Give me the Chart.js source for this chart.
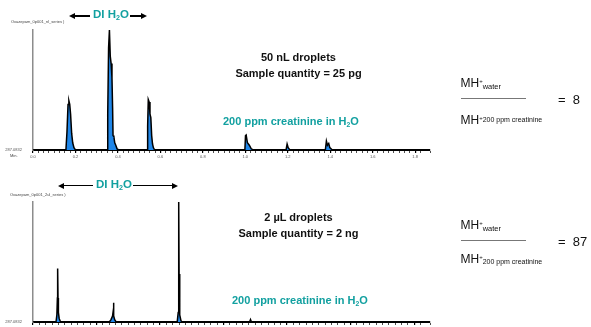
<!DOCTYPE html>
<html>
<head>
<meta charset="utf-8">
<script src="https://cdn.jsdelivr.net/npm/chart.js"></script>
<style>
    html, body { margin: 0; padding: 0; background: #fff; }
    body { width: 591px; height: 327px; overflow: hidden; position: relative; font-family: "Liberation Sans", Arial, sans-serif; }
    .box { position: absolute; left: 0; width: 440px; height: 165px; }
    .t { position: absolute; white-space: nowrap; line-height: 1; }
    .tiny { font-size: 4px; color: #444; }
    .bold { font-weight: bold; font-size: 11px; color: #111; }
    .center { width: 200px; text-align: center; }
    .teal { color: #12a0a0; font-weight: bold; }
    .di { font-size: 11.5px; }
    .t sub { font-size: 0.62em; line-height: 0; vertical-align: -0.25em; }
    .line { position: absolute; height: 1.5px; background: #000; }
    .hl, .hr { position: absolute; width: 0; height: 0; border-top: 3px solid transparent; border-bottom: 3px solid transparent; }
    .hl { border-right: 6px solid #000; }
    .hr { border-left: 6px solid #000; }
    .mh { font-size: 12px; line-height: 12px; color: #111; }
    .mh .p { font-size: 6px; vertical-align: 4px; line-height: 0; }
    .mh .s { font-size: 7.5px; line-height: 0; }
    .rule { position: absolute; height: 1px; background: #777; }
    .eq { font-size: 13px; color: #111; }
</style>
</head>
<body>
<div class="box" style="top:0"><canvas id="topChart"></canvas></div>
<div class="box" style="top:172px"><canvas id="bottomChart"></canvas></div>

<!-- top panel labels -->
<div class="t tiny" style="left:11px;top:20px">Oxazepam_0p001_nl_series )</div>
<div class="t tiny" style="left:10px;top:153.5px">Min.</div>
<div class="hl" style="left:69px;top:13.3px"></div>
<div class="line" style="left:74px;top:15px;width:16px"></div>
<div class="t teal di" style="left:93px;top:9.4px">DI H<sub>2</sub>O</div>
<div class="line" style="left:130px;top:15px;width:12px"></div>
<div class="hr" style="left:141px;top:13.3px"></div>
<div class="t bold center" style="left:198.5px;top:52px">50 nL droplets</div>
<div class="t bold center" style="left:198.5px;top:67.5px">Sample quantity = 25 pg</div>
<div class="t teal bold" style="left:223px;top:115.6px">200 ppm creatinine in H<sub>2</sub>O</div>

<div class="t mh" style="left:460.5px;top:77px">MH<span class="p">+</span><span class="s" style="vertical-align:-1.5px">water</span></div>
<div class="rule" style="left:460.7px;top:97.5px;width:65px"></div>
<div class="t eq" style="left:558px;top:93px">=&nbsp; 8</div>
<div class="t mh" style="left:460.5px;top:113.8px">MH<span class="p">+</span><span class="s" style="vertical-align:2.5px;font-size:7px">200 ppm creatinine</span></div>

<!-- bottom panel labels -->
<div class="t tiny" style="left:10px;top:192.5px">Oxazepam_0p001_2ul_series )</div>
<div class="hl" style="left:58px;top:182.8px"></div>
<div class="line" style="left:63px;top:184.5px;width:30px"></div>
<div class="t teal di" style="left:96px;top:179.4px">DI H<sub>2</sub>O</div>
<div class="line" style="left:133px;top:184.5px;width:40px"></div>
<div class="hr" style="left:172px;top:182.8px"></div>
<div class="t bold center" style="left:198.5px;top:211.5px">2 µL droplets</div>
<div class="t bold center" style="left:198.5px;top:227.5px">Sample quantity = 2 ng</div>
<div class="t teal bold" style="left:232px;top:294.6px">200 ppm creatinine in H<sub>2</sub>O</div>

<div class="t mh" style="left:460.5px;top:218.8px">MH<span class="p">+</span><span class="s" style="vertical-align:-2.3px">water</span></div>
<div class="rule" style="left:460.7px;top:239.5px;width:65px"></div>
<div class="t eq" style="left:558px;top:235.3px">=&nbsp; 87</div>
<div class="t mh" style="left:460.5px;top:252.5px">MH<span class="p">+</span><span class="s" style="vertical-align:-0.7px;font-size:7px">200 ppm creatinine</span></div>

<script>
// 50 nL droplet series (time in min, relative intensity)
var topTime = [0, 0.155, 0.160, 0.165, 0.169, 0.173, 0.177, 0.182, 0.187, 0.193, 0.200,
    0.349, 0.352, 0.356, 0.360, 0.364, 0.368, 0.372, 0.375, 0.377, 0.381, 0.385, 0.390, 0.396, 0.400,
    0.537, 0.540, 0.543, 0.547, 0.551, 0.555, 0.559, 0.563, 0.567, 0.573,
    0.998, 1.001, 1.004, 1.010, 1.019, 1.028, 1.038,
    1.192, 1.197, 1.202, 1.210,
    1.377, 1.382, 1.387, 1.393, 1.398, 1.410, 1.87];
var topSignal = [0, 0, 0.15, 0.38, 0.41, 0.38, 0.30, 0.14, 0.06, 0.02, 0,
    0, 0.30, 0.85, 1.0, 0.78, 0.72, 0.60, 0.35, 0.12, 0.11, 0.06, 0.04, 0.01, 0,
    0, 0.20, 0.42, 0.40, 0.30, 0.27, 0.12, 0.05, 0.02, 0,
    0, 0.12, 0.125, 0.06, 0.04, 0.01, 0,
    0, 0.05, 0.02, 0,
    0, 0.075, 0.04, 0.055, 0.02, 0, 0];
var topTickLabels = ['0.0', '0.2', '0.4', '0.6', '0.8', '1.0', '1.2', '1.4', '1.6', '1.8'];

// 2 uL droplet series
var bottomTime = [0, 0.181, 0.188, 0.192, 0.194, 0.197, 0.200, 0.206, 0.217,
    0.601, 0.614, 0.626, 0.630, 0.633, 0.637, 0.643, 0.652, 0.658,
    1.135, 1.143, 1.146, 1.148, 1.150, 1.155, 1.165, 1.174,
    1.705, 1.712, 1.720, 3.125];
var bottomSignal = [0, 0, 0.06, 0.20, 0.446, 0.20, 0.08, 0.03, 0,
    0, 0.02, 0.05, 0.08, 0.16, 0.05, 0.02, 0.005, 0,
    0, 0.08, 0.40, 1.0, 0.40, 0.06, 0.01, 0,
    0, 0.02, 0, 0];

var baseLabel = '287.0832';

function toPoints(xs, ys) {
    var pts = [];
    for (var i = 0; i < xs.length; i++) pts.push({ x: xs[i], y: ys[i] });
    return pts;
}

function isMultiple(v, step) {
    var r = v / step;
    return Math.abs(r - Math.round(r)) < 1e-6;
}

function makeChart(id, xs, ys, xMax, minorStep, majorStep, showLabels) {
    return new Chart(document.getElementById(id).getContext('2d'), {
        type: 'line',
        data: {
            datasets: [{
                data: toPoints(xs, ys),
                borderColor: '#000',
                borderWidth: 1.5,
                backgroundColor: '#1f86e8',
                fill: 'origin',
                pointRadius: 0,
                tension: 0
            }]
        },
        options: {
            responsive: true,
            maintainAspectRatio: false,
            animation: false,
            layout: { padding: { top: 30, right: 10, left: 0, bottom: 0 } },
            plugins: { legend: { display: false }, tooltip: { enabled: false } },
            scales: {
                x: {
                    type: 'linear',
                    min: 0,
                    max: xMax,
                    afterFit: function(scale) { scale.height = 15; },
                    border: { color: '#000', width: 2 },
                    grid: {
                        drawOnChartArea: false,
                        tickLength: 3,
                        color: '#000',
                        lineWidth: function(ctx) {
                            return ctx.tick && isMultiple(ctx.tick.value, majorStep) ? 1.2 : 0.7;
                        }
                    },
                    ticks: {
                        stepSize: minorStep,
                        autoSkip: false,
                        maxRotation: 0,
                        padding: 1,
                        color: '#555',
                        font: { size: 4, family: 'Liberation Sans' },
                        callback: function(v) {
                            if (!showLabels || !isMultiple(v, majorStep)) return '';
                            return topTickLabels[Math.round(v / majorStep)] || '';
                        }
                    }
                },
                y: {
                    min: 0,
                    max: 1,
                    afterFit: function(scale) { scale.width = 33; },
                    afterBuildTicks: function(scale) { scale.ticks = [{ value: 0 }]; },
                    border: { color: '#8c8c8c', width: 1.5 },
                    grid: { display: false },
                    ticks: {
                        padding: 3,
                        color: '#555',
                        font: { size: 4, family: 'Liberation Sans' },
                        callback: function() { return baseLabel; }
                    }
                }
            }
        }
    });
}

document.addEventListener('DOMContentLoaded', function() {
    makeChart('topChart', topTime, topSignal, 1.87, 0.025, 0.2, true);
    makeChart('bottomChart', bottomTime, bottomSignal, 3.125, 0.05, 0.5, false);
});
</script>
</body>
</html>
